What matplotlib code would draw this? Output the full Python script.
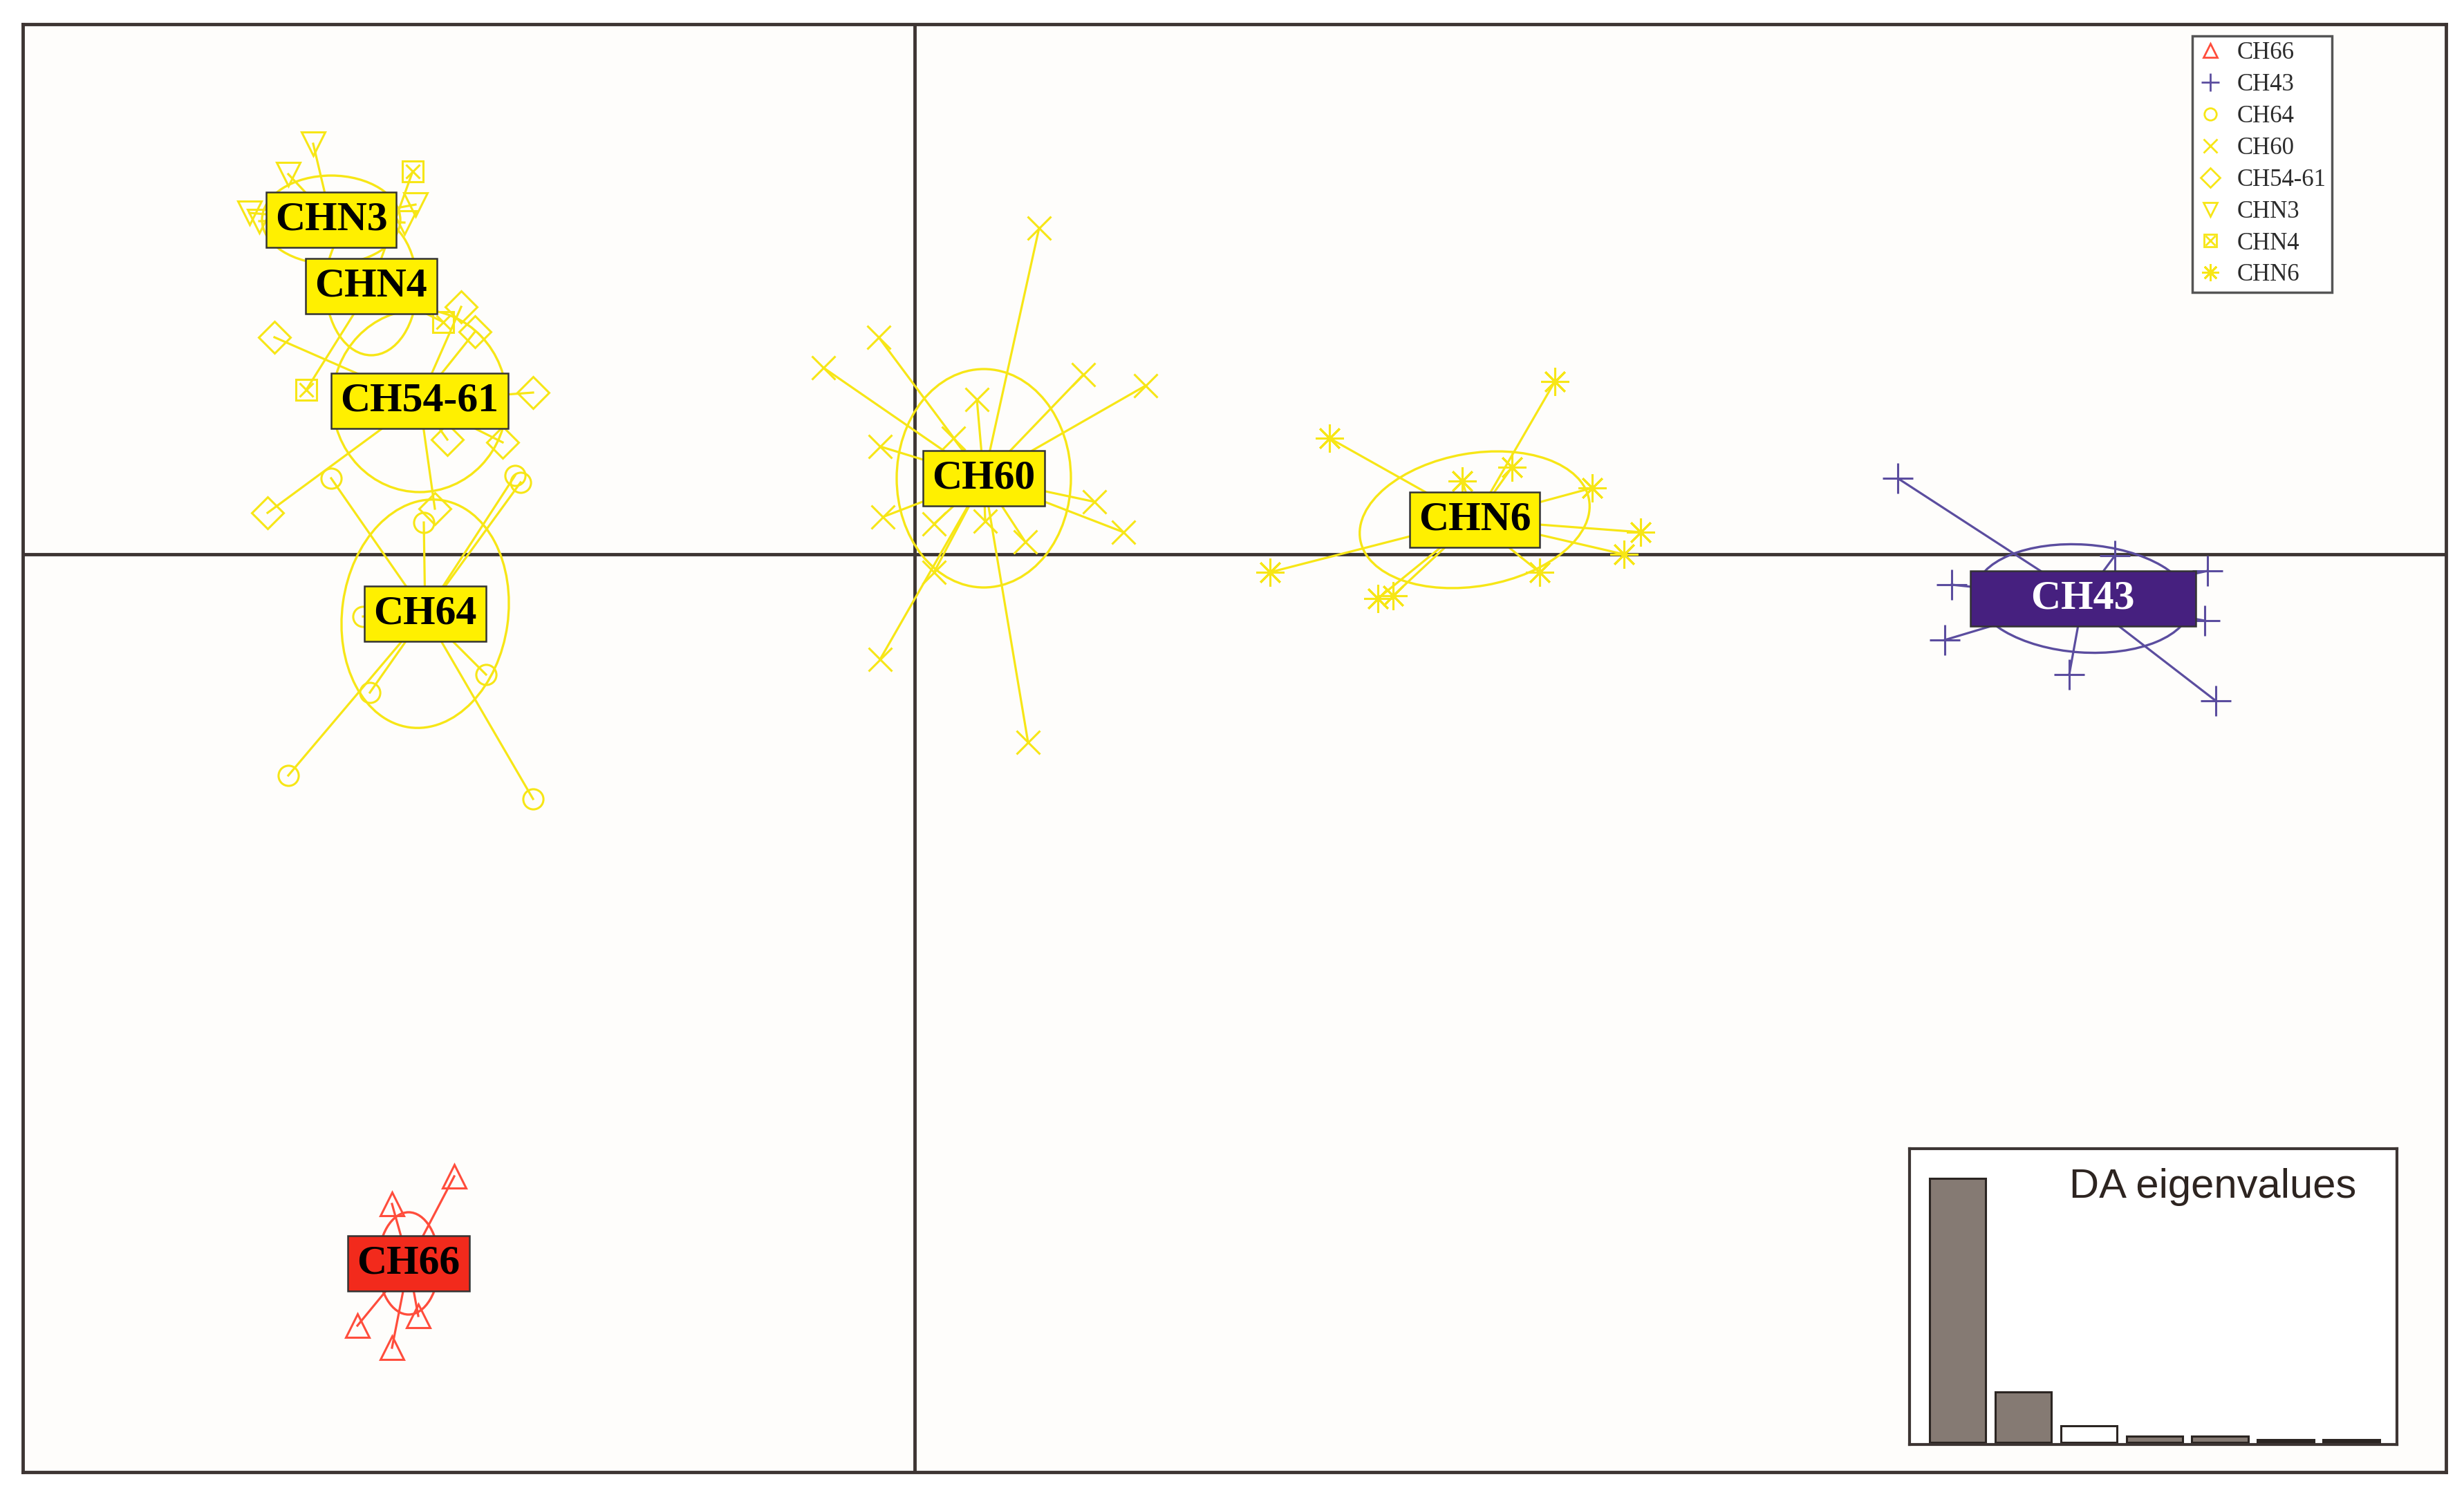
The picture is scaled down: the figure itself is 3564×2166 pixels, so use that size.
import matplotlib
matplotlib.use("Agg")
import matplotlib.pyplot as plt
from matplotlib.patches import Ellipse
from matplotlib.lines import Line2D

# groups in legend order
groups = ["CH66", "CH43", "CH64", "CH60", "CH54-61", "CHN3", "CHN4", "CHN6"]

# individual DA scores (LD1, LD2)
ch66_x = [-3.33, -3.78, -4.03, -3.59, -3.78]
ch66_y = [-4.50, -4.70, -5.58, -5.51, -5.74]
ch43_x = [7.11, 8.68, 9.35, 7.50, 9.33, 7.45, 8.35, 9.41]
ch43_y = [0.55, -0.01, -0.12, -0.22, -0.48, -0.62, -0.87, -1.06]
ch64_x = [-4.22, -2.89, -2.85, -3.55, -3.99, -3.94, -3.10, -4.53, -2.76]
ch64_y = [0.55, 0.57, 0.52, 0.23, -0.45, -1.00, -0.87, -1.60, -1.77]
ch60_x = [0.90, -0.26, -0.66, 1.22, 1.67, 0.45, -0.25, 0.28, 1.30, 1.51,
          -0.23, 0.14, 0.51, 0.80, 0.14, -0.25, 0.82]
ch60_y = [2.36, 1.57, 1.35, 1.30, 1.22, 1.12, 0.78, 0.84, 0.38, 0.16,
          0.27, 0.22, 0.24, 0.09, -0.13, -0.76, -1.36]
ch5461_x = [-4.63, -3.28, -3.18, -2.76, -3.38, -2.98, -4.68, -3.47]
ch5461_y = [1.57, 1.79, 1.61, 1.17, 0.83, 0.81, 0.30, 0.33]
chn3_x = [-4.35, -4.53, -4.81, -4.74, -3.61, -3.69, -4.27]
chn3_y = [2.97, 2.75, 2.47, 2.41, 2.53, 2.40, 2.34]
chn4_x = [-3.63, -4.40, -3.41]
chn4_y = [2.77, 1.19, 1.68]
chn6_x = [4.63, 3.00, 4.32, 3.96, 4.90, 5.25, 5.13, 2.57, 4.52, 3.35, 3.46]
chn6_y = [1.25, 0.84, 0.63, 0.53, 0.48, 0.16, 0.00, -0.13, -0.13, -0.32, -0.30]

# group centroids
cent_x = [-3.66, 8.45, -3.54, 0.50, -3.58, -4.22, -3.93, 4.05]
cent_y = [-5.13, -0.32, -0.43, 0.55, 1.11, 2.42, 1.94, 0.25]

# inertia ellipses: semi axes and tilt
ell_a = [0.22, 0.78, 0.60, 0.63, 0.63, 0.50, 0.33, 0.84]
ell_b = [0.37, 0.39, 0.83, 0.79, 0.66, 0.32, 0.50, 0.48]
ell_ang = [0, -4, -8, 0, 0, 0, 0, 10]

# DA eigenvalues (inset)
eig_vals = [100, 19.2, 6.2, 2.3, 2.3, 1.0, 1.0]

xs = [ch66_x, ch43_x, ch64_x, ch60_x, ch5461_x, chn3_x, chn4_x, chn6_x]
ys = [ch66_y, ch43_y, ch64_y, ch60_y, ch5461_y, chn3_y, chn4_y, chn6_y]

yel = "#F7E616"
pt_col = ["#FF4D3C", "#5B4D9F", yel, yel, yel, yel, yel, yel]
box_col = ["#F22A1C", "#46207F", "#FFF000", "#FFF000", "#FFF000", "#FFF000", "#FFF000", "#FFF000"]
txt_col = ["black", "white", "black", "black", "black", "black", "black", "black"]
markers = ["^", "+", "o", "x", "D", "v", "s", (8, 2, 0)]
msizes = [25, 31, 21, 24, 23, 25, 21, 29]
label_txt = ["CH66", "     CH43     ", "CH64", "CH60", "CH54-61", "CHN3", "CHN4", "CHN6"]

fig = plt.figure(figsize=(35.64, 21.66), dpi=100)
ax = fig.add_axes([0.00926, 0.01662, 0.98344, 0.96722])
ax.set_facecolor("#FEFDFB")
ax.set_xlim(-6.45, 11.075)
ax.set_ylim(-6.64, 3.835)
ax.set_xticks([])
ax.set_yticks([])
for s in ax.spines.values():
    s.set_linewidth(3.5)
    s.set_color("#3D3533")

ax.axhline(0, color="#3D3533", lw=3.5, zorder=1)
ax.axvline(0, color="#3D3533", lw=3.5, zorder=1)

for i, g in enumerate(groups):
    c = pt_col[i]
    for x, y in zip(xs[i], ys[i]):
        ax.plot([cent_x[i], x], [cent_y[i], y], color=c, lw=2.3, zorder=2)
    ax.add_patch(Ellipse((cent_x[i], cent_y[i]), 2 * ell_a[i], 2 * ell_b[i],
                         angle=ell_ang[i], fill=False, ec=c, lw=2.4, zorder=2))
    ax.plot(xs[i], ys[i], ls="none", marker=markers[i], ms=msizes[i], mfc="none",
            mec=c, mew=2.2, zorder=3)
    if g == "CHN4":
        ax.plot(xs[i], ys[i], ls="none", marker="x", ms=msizes[i] * 0.7, mec=c, mew=2.2, zorder=3)

for i, g in enumerate(groups):
    ax.text(cent_x[i], cent_y[i], label_txt[i], ha="center", va="center",
            fontsize=43, fontweight="bold", family="Liberation Serif", color=txt_col[i],
            zorder=5,
            bbox=dict(boxstyle="square,pad=0.22", fc=box_col[i], ec="#333333", lw=1.8))

# legend
handles = []
for i, g in enumerate(groups):
    h = Line2D([], [], ls="none", marker=markers[i], ms=msizes[i] * 0.6, mfc="none",
               mec=pt_col[i], mew=2)
    if g == "CHN4":
        h = (h, Line2D([], [], ls="none", marker="x", ms=msizes[i] * 0.45, mec=pt_col[i], mew=2))
    handles.append(h)
leg = ax.legend(handles, groups, loc="upper right", bbox_to_anchor=(0.953, 0.992),
                prop={"family": "Liberation Serif", "size": 25}, frameon=True,
                fancybox=False, framealpha=1, edgecolor="#555555", labelspacing=0.37,
                handlelength=1.0, handletextpad=0.6, borderpad=0.25, borderaxespad=0)
leg.get_frame().set_linewidth(2.5)
for t in leg.get_texts():
    t.set_color("#2B2B2B")

# eigenvalue inset
ax2 = fig.add_axes([0.775, 0.0351, 0.1978, 0.1976])
bar_col = ["#857A73", "#857A73", "white", "#857A73", "#857A73", "#2B2522", "#2B2522"]
ax2.bar(range(1, len(eig_vals) + 1), eig_vals, width=0.86, color=bar_col,
        edgecolor="#2B2522", lw=2.2)
ax2.set_xlim(0.268, 7.695)
ax2.set_ylim(-0.8, 111.2)
ax2.set_xticks([])
ax2.set_yticks([])
for s in ax2.spines.values():
    s.set_linewidth(3)
    s.set_color("#3D3533")
ax2.text(0.916, 0.871, "DA eigenvalues", transform=ax2.transAxes, ha="right", va="center",
         fontsize=43, family="Liberation Sans", color="#2D2420")

fig.savefig("out.png", dpi=100)
